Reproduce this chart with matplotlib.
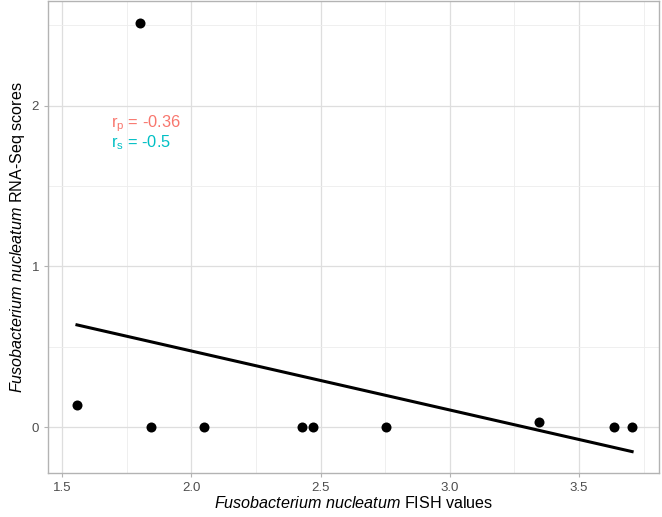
import numpy as np
import matplotlib
matplotlib.use("Agg")
import matplotlib.pyplot as plt
from matplotlib.ticker import MultipleLocator

# data
fish = [1.558, 1.800, 1.844, 2.049, 2.428, 2.471, 2.753, 3.345, 3.635, 3.705]
rnaseq = [0.137, 2.515, 0.0, 0.0, 0.0, 0.0, 0.0, 0.031, 0.0, 0.0]
r_pearson = "-0.36"
r_spearman = "-0.5"

plt.rcParams['font.family'] = ['Liberation Sans', 'DejaVu Sans']
plt.rcParams['mathtext.fontset'] = 'custom'
plt.rcParams['mathtext.rm'] = 'Liberation Sans'
plt.rcParams['mathtext.it'] = 'Liberation Sans:italic'

fig = plt.figure(figsize=(6.62, 5.17), dpi=100)
ax = fig.add_axes([48/662, 44/517, 611/662, 472/517])

# linear fit line
slope, icpt = np.polyfit(fish, rnaseq, 1)
xl = np.array([min(fish), max(fish)])
ax.plot(xl, slope*xl + icpt, color='black', linewidth=2.2, zorder=3)
ax.scatter(fish, rnaseq, s=52, color='black', zorder=4, linewidths=0)

ax.set_xlim(1.446, 3.809)
ax.set_ylim(-0.286, 2.652)
ax.xaxis.set_major_locator(MultipleLocator(0.5))
ax.xaxis.set_minor_locator(MultipleLocator(0.25))
ax.yaxis.set_major_locator(MultipleLocator(1))
ax.yaxis.set_minor_locator(MultipleLocator(0.5))
ax.set_xticks([1.5, 2.0, 2.5, 3.0, 3.5])
ax.set_xticklabels(['1.5', '2.0', '2.5', '3.0', '3.5'])

ax.grid(which='major', color='#DEDEDE', linewidth=0.9)
ax.grid(which='minor', color='#EDEDED', linewidth=0.6)
ax.set_axisbelow(True)
for s in ax.spines.values():
    s.set_color('#B3B3B3')
    s.set_linewidth(1.0)
ax.tick_params(which='major', colors='#B3B3B3', labelcolor='#4D4D4D', labelsize=9.5, length=3, width=0.8)
ax.tick_params(which='minor', length=0)

ax.set_xlabel(r'$\mathit{Fusobacterium\ nucleatum}$ FISH values', fontsize=11.6, labelpad=1)
ax.set_ylabel(r'$\mathit{Fusobacterium\ nucleatum}$ RNA-Seq scores', fontsize=11.6, labelpad=3)

ax.text(1.69, 1.89, r'r$_\mathregular{p}$ = ' + r_pearson, color='#F8766D', fontsize=11.8, va='center')
ax.text(1.69, 1.77, r'r$_\mathregular{s}$ = ' + r_spearman, color='#00BFC4', fontsize=11.8, va='center')

plt.savefig('out.png', dpi=100)
